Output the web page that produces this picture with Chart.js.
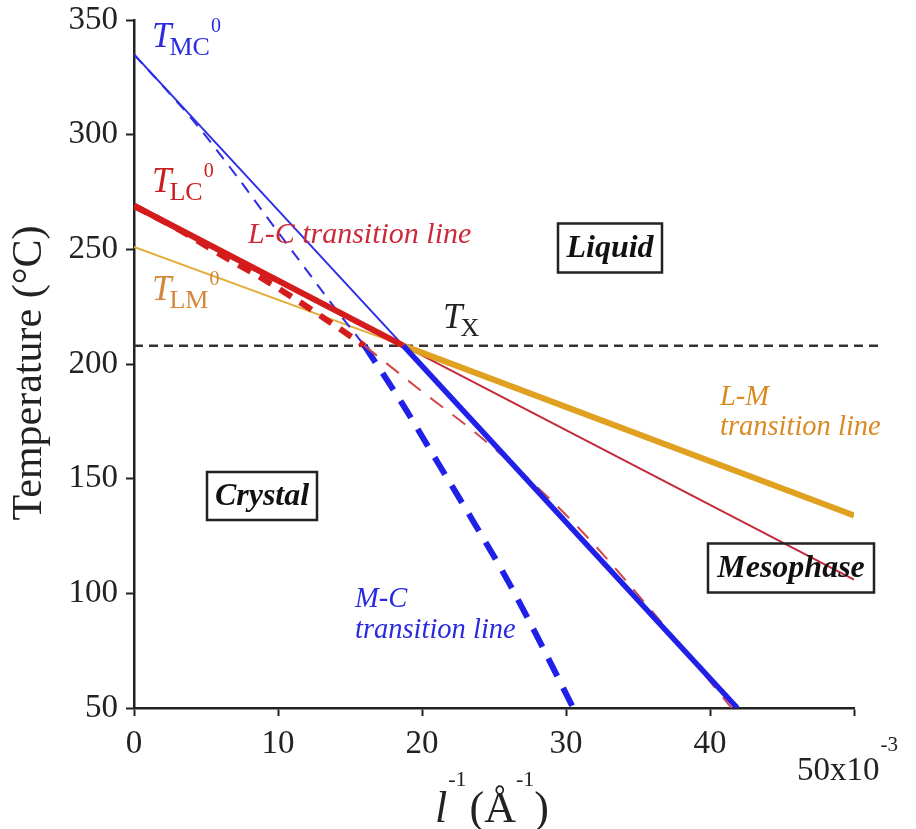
<!DOCTYPE html>
<html>
<head>
<meta charset="utf-8">
<title>Phase diagram</title>
<script src="https://cdn.jsdelivr.net/npm/chart.js@4.4.1/dist/chart.umd.min.js"></script>
<style>
    html, body { margin: 0; padding: 0; background: #fff; }
    #wrap { width: 916px; height: 829px; position: relative; }
</style>
</head>
<body>
<div id="wrap"><canvas id="phaseChart"></canvas></div>
<script>
// axis ticks
var xTicks = [0, 10, 20, 30, 40, 50];
var yTicks = [50, 100, 150, 200, 250, 300, 350];

// T_X horizontal
var txX = [0, 51.9];
var txT = [208, 208];

// M-C line (solid: thin above T_X, thick below)
var mcThinX = [0, 18.7];
var mcThinT = [335, 208];
var mcThickX = [18.7, 41.9];
var mcThickT = [208, 50];

// M-C dashed curve
var mcDashThinX = [0, 4, 7, 9, 11.5, 14, 16];
var mcDashThinT = [335, 307, 283, 266, 245, 224, 208];
var mcDashThickX = [16, 18.5, 21, 23.5, 26, 28.5, 30.5];
var mcDashThickT = [208, 184, 158, 132, 105, 75, 50];

// L-C line
var lcThickX = [0, 18.7];
var lcThickT = [269, 208];
var lcThinX = [18.7, 50];
var lcThinT = [208, 106];

// L-C dashed curve
var lcDashThickX = [0, 3, 6.2, 8.6, 10.9, 13.2, 16];
var lcDashThickT = [269, 259, 247, 238.5, 229.5, 220, 208];
var lcDashThinX = [16, 19.8, 24.3, 30.5, 36, 41.5];
var lcDashThinT = [208, 189, 167, 131, 92, 50];

// L-M line
var lmThinX = [0, 18.7];
var lmThinT = [251, 208];
var lmThickX = [18.7, 50];
var lmThickT = [208, 134];

function pts(xs, ys) {
    return xs.map(function (x, i) { return { x: x, y: ys[i] }; });
}

function line(xs, ys, color, width, dash, order, curve) {
    return {
        data: pts(xs, ys),
        borderColor: color,
        borderWidth: width,
        borderDash: dash || [],
        showLine: true,
        pointRadius: 0,
        fill: false,
        order: order,
        cubicInterpolationMode: curve ? 'monotone' : 'default',
        borderCapStyle: 'butt'
    };
}

var SERIF = '"Liberation Serif", "Times New Roman", serif';

// draws T with subscript and optional superscript 0
function drawT(ctx, x, y, sub, color, sup) {
    ctx.fillStyle = color;
    ctx.textAlign = 'left';
    ctx.textBaseline = 'alphabetic';
    ctx.font = 'italic 35px ' + SERIF;
    ctx.fillText('T', x, y);
    var w = ctx.measureText('T').width;
    ctx.font = '26px ' + SERIF;
    ctx.fillText(sub, x + w - 2, y + 8);
    var w2 = ctx.measureText(sub).width;
    if (sup) {
        ctx.font = '20px ' + SERIF;
        ctx.fillText('0', x + w - 2 + w2 + 1, y - 15);
    }
}

function boxLabel(ctx, text, cx, cy, bw, bh) {
    ctx.strokeStyle = '#222';
    ctx.lineWidth = 2.5;
    ctx.strokeRect(cx - bw / 2, cy - bh / 2, bw, bh);
    ctx.fillStyle = '#111';
    ctx.font = 'italic bold 32px ' + SERIF;
    ctx.textAlign = 'center';
    ctx.textBaseline = 'middle';
    ctx.fillText(text, cx, cy + 1);
}

// no automatic padding from tick label overflow
function noPad(s) {
    s.paddingTop = 0;
    s.paddingBottom = 0;
    s.paddingLeft = 0;
    s.paddingRight = 0;
}

var annotations = {
    id: 'annotations',
    afterDatasetsDraw: function (chart) {
        var ctx = chart.ctx;
        ctx.save();

        drawT(ctx, 152, 47, 'MC', '#2b2be0', true);
        drawT(ctx, 152, 192, 'LC', '#c81e1e', true);
        drawT(ctx, 152, 300, 'LM', '#d4873a', true);
        drawT(ctx, 443, 328, 'X', '#222', false);

        ctx.textAlign = 'left';
        ctx.textBaseline = 'alphabetic';
        ctx.font = 'italic 30px ' + SERIF;
        ctx.fillStyle = '#cc2a3a';
        ctx.fillText('L-C transition line', 248, 243);
        ctx.font = 'italic 28.5px ' + SERIF;
        ctx.fillStyle = '#d98a22';
        ctx.fillText('L-M', 720, 405);
        ctx.fillText('transition line', 720, 435);
        ctx.fillStyle = '#2a2ae0';
        ctx.fillText('M-C', 355, 607);
        ctx.fillText('transition line', 355, 638);

        boxLabel(ctx, 'Liquid', 610, 248, 104, 49);
        boxLabel(ctx, 'Crystal', 262, 496, 110, 48);
        boxLabel(ctx, 'Mesophase', 791, 568, 166, 49);

        // last x tick label
        ctx.fillStyle = '#222';
        ctx.font = '33px ' + SERIF;
        ctx.textAlign = 'left';
        ctx.fillText('50x10', 797, 771);
        var w = ctx.measureText('50x10').width;
        ctx.font = '21px ' + SERIF;
        ctx.fillText('-3', 797 + w + 1, 745);

        // x axis title
        var x = 435, base = 810;
        ctx.font = 'italic 44px ' + SERIF;
        ctx.fillText('l', x, base);
        x += ctx.measureText('l').width + 1;
        ctx.font = '22px ' + SERIF;
        ctx.fillText('-1', x, base - 30);
        x += ctx.measureText('-1').width + 3;
        ctx.font = '44px ' + SERIF;
        ctx.fillText('(Å', x, base);
        x += ctx.measureText('(Å').width;
        ctx.font = '22px ' + SERIF;
        ctx.fillText('-1', x, base - 30);
        x += ctx.measureText('-1').width;
        ctx.font = '44px ' + SERIF;
        ctx.fillText(')', x, base);

        // y axis title
        ctx.translate(41, 373);
        ctx.rotate(-Math.PI / 2);
        ctx.font = '42px ' + SERIF;
        ctx.textAlign = 'center';
        ctx.textBaseline = 'alphabetic';
        ctx.fillText('Temperature (°C)', 0, 0);

        ctx.restore();
    }
};

document.addEventListener('DOMContentLoaded', function () {
    var ctx = document.getElementById('phaseChart').getContext('2d');

    var datasets = [
        line(txX, txT, '#333', 2.5, [9, 6], 10, false),
        line(lmThinX, lmThinT, '#e2ad38', 2, null, 9, false),
        line(lcThinX, lcThinT, '#c42a3c', 2, null, 8, false),
        line(lmThickX, lmThickT, '#e0a020', 6, null, 7, false),
        line(mcThinX, mcThinT, '#2e2ee6', 2, null, 6, false),
        line(mcDashThinX, mcDashThinT, '#2e2ee6', 2, [12, 9], 5, true),
        line(lcDashThickX, lcDashThickT, '#d41c1c', 6, [14, 10], 4, true),
        line(lcThickX, lcThickT, '#d41c1c', 6, null, 3, false),
        line(mcDashThickX, mcDashThickT, '#2020e8', 6, [20, 13], 2, true),
        line(lcDashThinX, lcDashThinT, '#d04848', 2, [16, 12], 1, true),
        line(mcThickX, mcThickT, '#2020e8', 5.5, null, 0, false)
    ];
    datasets[0].clip = false;

    var phaseChart = new Chart(ctx, {
        type: 'scatter',
        data: { datasets: datasets },
        options: {
            responsive: true,
            maintainAspectRatio: false,
            animation: false,
            events: [],
            layout: { padding: { top: 20, right: 62, bottom: 0, left: 0 } },
            plugins: {
                legend: { display: false },
                tooltip: { enabled: false }
            },
            scales: {
                x: {
                    type: 'linear',
                    min: xTicks[0],
                    max: xTicks[xTicks.length - 1],
                    afterFit: function (s) { s.height = 121; noPad(s); },
                    afterBuildTicks: function (s) {
                        s.ticks = xTicks.map(function (v) { return { value: v }; });
                    },
                    ticks: {
                        color: '#222',
                        font: { family: SERIF, size: 33 },
                        padding: 9,
                        maxRotation: 0,
                        callback: function (v) { return v === 50 ? '' : String(v); }
                    },
                    grid: {
                        drawOnChartArea: false,
                        drawTicks: true,
                        tickLength: 8,
                        tickWidth: 2,
                        tickColor: '#222'
                    },
                    border: { color: '#222', width: 2.5 }
                },
                y: {
                    type: 'linear',
                    min: yTicks[0],
                    max: yTicks[yTicks.length - 1],
                    afterFit: function (s) { s.width = 134; noPad(s); },
                    afterBuildTicks: function (s) {
                        s.ticks = yTicks.map(function (v) { return { value: v }; });
                    },
                    ticks: {
                        color: '#222',
                        font: { family: SERIF, size: 33 },
                        padding: 8
                    },
                    grid: {
                        drawOnChartArea: false,
                        drawTicks: true,
                        tickLength: 8,
                        tickWidth: 2,
                        tickColor: '#222'
                    },
                    border: { color: '#222', width: 2.5 }
                }
            }
        },
        plugins: [annotations]
    });
});
</script>
</body>
</html>
